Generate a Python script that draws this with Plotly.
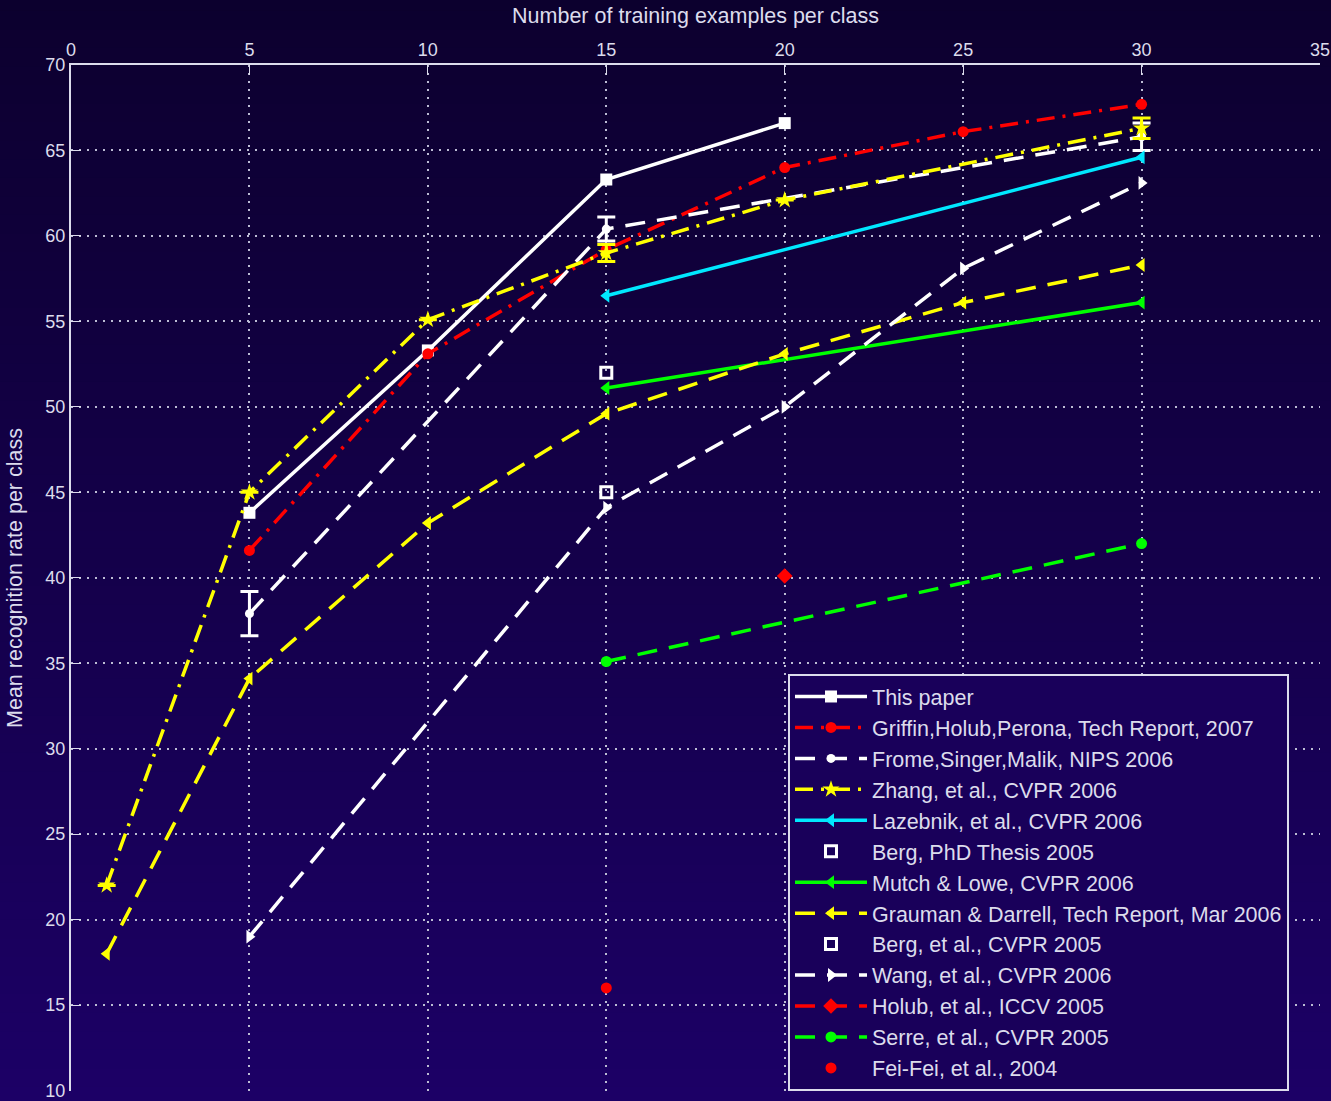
import plotly.graph_objects as go

# ---------------- data ----------------
this_x = [5, 10, 15, 20]
this_y = [43.8, 53.3, 63.3, 66.6]

griffin_x = [5, 10, 15, 20, 25, 30]
griffin_y = [41.6, 53.1, 59.2, 64.0, 66.1, 67.7]

frome_x = [5, 15, 30]
frome_y = [37.9, 60.4, 65.8]
frome_err = [1.3, 0.7, 0.8]

zhang_x = [1, 5, 10, 15, 20, 30]
zhang_y = [22.0, 45.0, 55.1, 59.0, 62.1, 66.3]
zhang_err = [None, None, None, 0.5, None, 0.6]

lazebnik_x = [15, 30]
lazebnik_y = [56.5, 64.6]

berg_thesis_x = [15]
berg_thesis_y = [52.0]

mutch_x = [15, 30]
mutch_y = [51.1, 56.1]

grauman_x = [1, 5, 10, 15, 20, 25, 30]
grauman_y = [18.0, 34.1, 43.2, 49.6, 53.1, 56.1, 58.3]

berg_x = [15]
berg_y = [45.0]

wang_x = [5, 15, 20, 25, 30]
wang_y = [19.0, 44.1, 50.0, 58.1, 63.1]

holub_x = [20]
holub_y = [40.1]

serre_x = [15, 30]
serre_y = [35.1, 42.0]

feifei_x = [15]
feifei_y = [16.0]

x_ticks = [0, 5, 10, 15, 20, 25, 30, 35]
y_ticks = [10, 15, 20, 25, 30, 35, 40, 45, 50, 55, 60, 65, 70]

# ---------------- styling ----------------
FG = "#dcdcec"
GRID = "#bcbcd4"
WHITE = "#ffffff"
RED = "#ff0000"
YEL = "#ffff00"
CYAN = "#00e8ff"
GREEN = "#00ff00"
DASH = "20px,12px"
DASHDOT = "18px,8px,3px,8px"
LW = 3.5

fig = go.Figure()


def add(name, x, y, color, dash=None, symbol="circle", size=9, mode="lines+markers",
        err=None, mline=0, mcolor=None):
    kw = {}
    if err is not None:
        kw["error_y"] = dict(type="data", array=err, visible=True, color=color,
                             thickness=3, width=9)
    fig.add_trace(go.Scatter(
        x=x, y=y, name=name, mode=mode, legendgroup=name,
        line=dict(color=color, width=LW, dash=dash) if "lines" in mode else None,
        marker=dict(symbol=symbol, size=size, color=mcolor or color,
                    line=dict(width=mline, color=color)),
        **kw))


add("This paper", this_x, this_y, WHITE, symbol="square", size=12)
add("Griffin,Holub,Perona, Tech Report, 2007", griffin_x, griffin_y, RED, dash=DASHDOT,
    symbol="circle", size=11)
add("Frome,Singer,Malik, NIPS 2006", frome_x, frome_y, WHITE, dash=DASH, symbol="circle",
    size=9, err=frome_err)
add("Zhang, et al., CVPR 2006", zhang_x, zhang_y, YEL, dash=DASHDOT, symbol="star",
    size=13, err=zhang_err)
add("Lazebnik, et al., CVPR 2006", lazebnik_x, lazebnik_y, CYAN, symbol="triangle-left",
    size=12)
add("Berg, PhD Thesis 2005", berg_thesis_x, berg_thesis_y, WHITE, mode="markers",
    symbol="square-open", size=11, mline=3)
add("Mutch & Lowe, CVPR 2006", mutch_x, mutch_y, GREEN, symbol="triangle-left", size=12)
add("Grauman & Darrell, Tech Report, Mar 2006", grauman_x, grauman_y, YEL, dash=DASH,
    symbol="triangle-left", size=12)
add("Berg, et al., CVPR 2005", berg_x, berg_y, WHITE, mode="markers",
    symbol="square-open", size=11, mline=3)
add("Wang, et al., CVPR 2006", wang_x, wang_y, WHITE, dash=DASH, symbol="triangle-right",
    size=12)
add("Holub, et al., ICCV 2005", holub_x, holub_y, RED, dash=DASH, symbol="diamond",
    size=12)
add("Serre, et al., CVPR 2005", serre_x, serre_y, GREEN, dash=DASH, symbol="circle",
    size=11)
add("Fei-Fei, et al., 2004", feifei_x, feifei_y, RED, mode="markers", symbol="circle",
    size=11)

# ---------------- background gradient (paper coords) ----------------
top = (12, 0, 46)
bot = (28, 0, 102)
y_top, y_bot = 1.07, -0.015
n = 60
shapes = []
for i in range(n):
    t = i / (n - 1)
    c = tuple(int(round(top[k] + (bot[k] - top[k]) * t)) for k in range(3))
    y1 = y_top + (y_bot - y_top) * i / n
    y0 = y_top + (y_bot - y_top) * (i + 1) / n
    shapes.append(dict(type="rect", xref="paper", yref="paper", x0=-0.07, x1=1.02,
                       y0=y0 - 0.001, y1=y1 + 0.001, fillcolor="rgb(%d,%d,%d)" % c,
                       line=dict(width=0), layer="below"))

FONT = "Liberation Sans Narrow, Liberation Sans, Arial, sans-serif"

fig.update_layout(
    width=1331, height=1101,
    margin=dict(l=71, r=11, t=65, b=10, autoexpand=False),
    paper_bgcolor="rgb(20,0,74)",
    plot_bgcolor="rgba(0,0,0,0)",
    shapes=shapes,
    font=dict(family=FONT, color=FG, size=18),
    showlegend=True,
    legend=dict(
        xref="container", yref="container",
        x=788 / 1331, y=1 - 674 / 1101, xanchor="left", yanchor="top",
        bgcolor="rgb(25,0,90)", bordercolor=FG, borderwidth=2,
        font=dict(family="Liberation Sans, Arial, sans-serif", size=21.5, color=FG),
        tracegroupgap=0, itemwidth=72,
    ),
    xaxis=dict(
        side="top", range=[0, 35], tickvals=x_ticks, ticktext=[str(v) for v in x_ticks],
        showline=True, linecolor=FG, linewidth=2, mirror=False,
        ticks="inside", ticklen=10, tickwidth=1, tickcolor=FG,
        showgrid=True, gridcolor=GRID, griddash="2px,6px", gridwidth=1.5, zeroline=False,
        title=dict(text="Number of training examples per class", standoff=10,
                   font=dict(size=21.5)),
        tickfont=dict(size=18),
    ),
    yaxis=dict(
        range=[9.97, 70], tickvals=y_ticks, ticktext=[str(v) for v in y_ticks],
        showline=True, linecolor=FG, linewidth=2, mirror=False,
        ticks="inside", ticklen=10, tickwidth=1, tickcolor=FG,
        showgrid=True, gridcolor=GRID, griddash="2px,6px", gridwidth=1.5, zeroline=False,
        title=dict(text="Mean recognition rate per class", standoff=17,
                   font=dict(size=21.5)),
        tickfont=dict(size=18),
    ),
)

fig.write_html("out.html", config={"displayModeBar": False},
               post_script="document.body.style.margin='0';document.body.style.padding='0';")
